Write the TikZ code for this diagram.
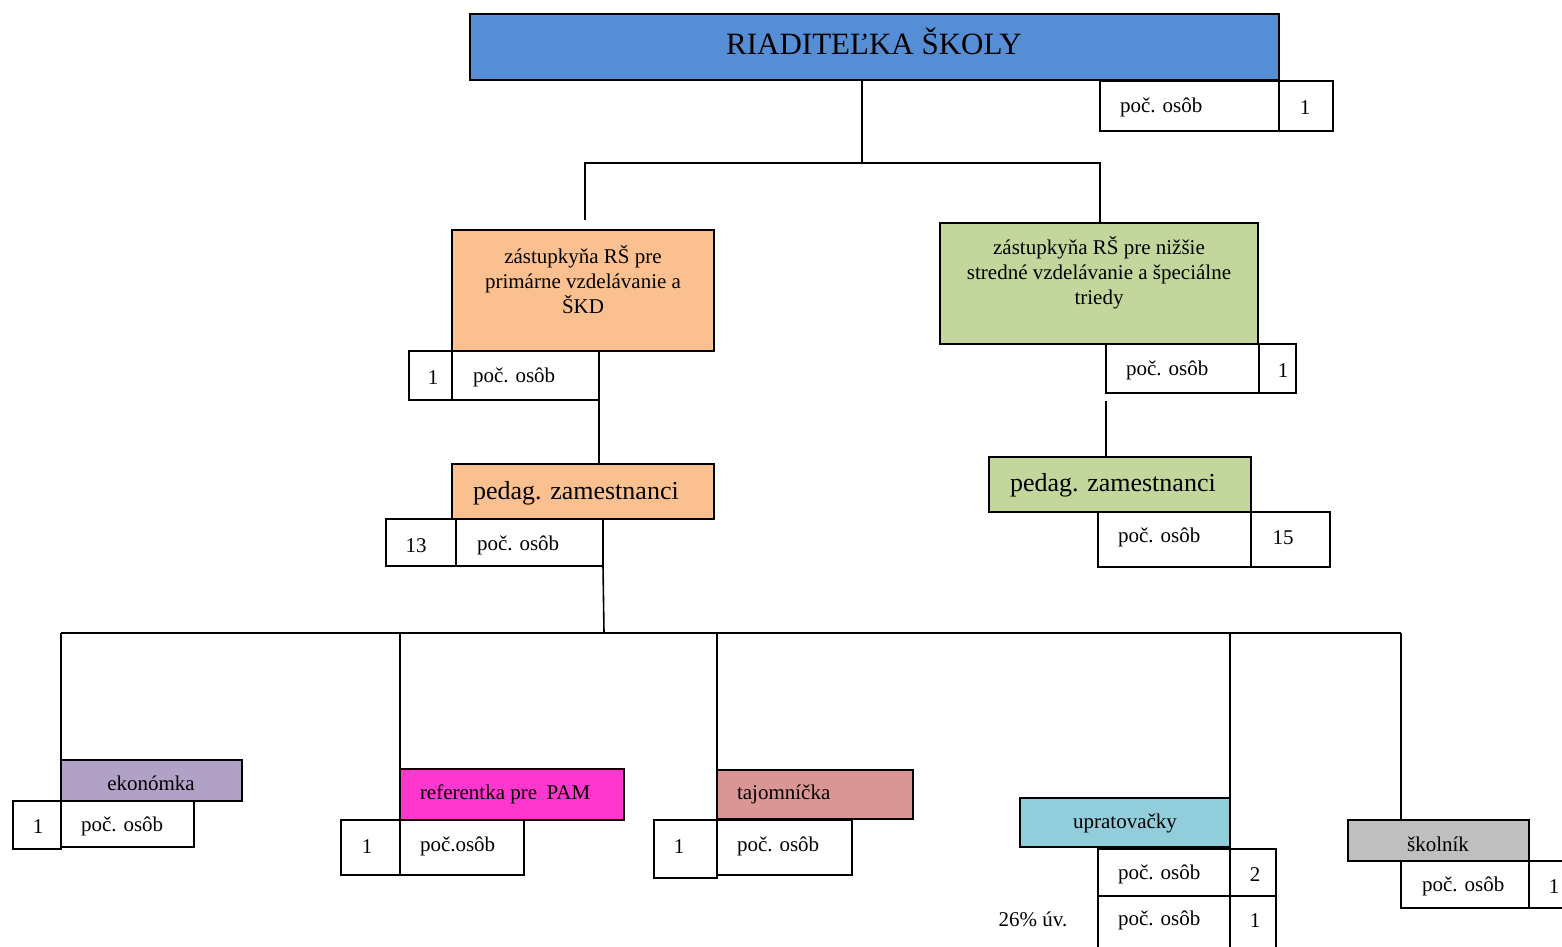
\documentclass[tikz,border=0pt]{standalone}
\usepackage{fontspec}
\setmainfont{Liberation Serif}
\definecolor{cblue}{HTML}{558ED5}
\definecolor{corange}{HTML}{FAC090}
\definecolor{cgreen}{HTML}{C3D69B}
\definecolor{cpurple}{HTML}{B2A1C7}
\definecolor{cmagenta}{HTML}{FF37CF}
\definecolor{crose}{HTML}{D99694}
\definecolor{ccyan}{HTML}{92CDDC}
\definecolor{cgray}{HTML}{BFBFBF}
\begin{document}
\begin{tikzpicture}[x=1pt,y=-1pt,
  every node/.style={inner sep=0pt, outer sep=0pt},
  ln/.style={draw=black, line width=1.6pt},
  boxx/.style={draw=black, line width=1.6pt, rectangle, anchor=north west},
  txt/.style={font=\fontsize{21}{25}\selectfont, yshift=-1.5pt},
  txtw/.style={txt, anchor=west},
  big/.style={font=\fontsize{26}{30}\selectfont, anchor=west, yshift=-1.5pt}]
\useasboundingbox (0,0) rectangle (1562,946);
\fill[white] (0,0) rectangle (1562,946);

% ---------- director
\node[boxx, fill=cblue, minimum width=809pt, minimum height=66pt] (dir) at (470,14) {};
\node[font=\fontsize{31}{36}\selectfont] (dirt) at (874,41) {RIADITEĽKA ŠKOLY};
\node[boxx, minimum width=179pt, minimum height=50pt] (d1) at (1100,81) {};
\node[boxx, minimum width=54pt, minimum height=50pt] (d2) at (1279,81) {};
\node[txtw] (d1t) at (1120,106) {poč. osôb};
\node[txt] (d2t) at (1305,106) {1};

% ---------- left deputy
\node[boxx, fill=corange, minimum width=262pt, minimum height=121pt] (zl) at (452,230) {};
\node[txt, align=center] (zlt) at (583,278) {zástupkyňa RŠ pre\\primárne vzdelávanie a\\ŠKD};
\node[boxx, minimum width=43pt, minimum height=49pt] (l1a) at (409,351) {};
\node[boxx, minimum width=147pt, minimum height=49pt] (l1b) at (452,351) {};
\node[txt] (l1at) at (433,376) {1};
\node[txtw] (l1bt) at (473,376) {poč. osôb};

\node[boxx, fill=corange, minimum width=262pt, minimum height=55pt] (pl) at (452,464) {};
\node[big] (plt) at (473,492) {pedag. zamestnanci};
\node[boxx, minimum width=70pt, minimum height=47pt] (l2a) at (386,519) {};
\node[boxx, minimum width=147pt, minimum height=47pt] (l2b) at (456,519) {};
\node[txt] (l2at) at (416,544) {13};
\node[txtw] (l2bt) at (477,544) {poč. osôb};

% ---------- right deputy
\node[boxx, fill=cgreen, minimum width=318pt, minimum height=121pt] (zr) at (940,223) {};
\node[txt, align=center] (zrt) at (1099,271) {zástupkyňa RŠ pre nižšie\\stredné vzdelávanie a špeciálne\\triedy};
\node[boxx, minimum width=153pt, minimum height=49pt] (r1a) at (1106,344) {};
\node[boxx, minimum width=37pt, minimum height=49pt] (r1b) at (1259,344) {};
\node[txtw] (r1at) at (1126,369) {poč. osôb};
\node[txt] (r1bt) at (1283,369) {1};

\node[boxx, fill=cgreen, minimum width=262pt, minimum height=55pt] (pr) at (989,457) {};
\node[big] (prt) at (1010,484) {pedag. zamestnanci};
\node[boxx, minimum width=153pt, minimum height=55pt] (r2a) at (1098,512) {};
\node[boxx, minimum width=79pt, minimum height=55pt] (r2b) at (1251,512) {};
\node[txtw] (r2at) at (1118,536) {poč. osôb};
\node[txt] (r2bt) at (1283,536) {15};

% ---------- bottom staff
\node[boxx, fill=cpurple, minimum width=181pt, minimum height=41pt] (ek) at (61,760) {};
\node[txt] (ekt) at (151,782) {ekonómka};
\node[boxx, minimum width=48pt, minimum height=48pt] (e1a) at (13,801) {};
\node[boxx, minimum width=133pt, minimum height=46pt] (e1b) at (61,801) {};
\node[txt] (e1at) at (38,825) {1};
\node[txtw] (e1bt) at (81,825) {poč. osôb};

\node[boxx, fill=cmagenta, minimum width=224pt, minimum height=51pt] (re) at (400,769) {};
\node[txtw] (ret) at (420,793) {referentka pre\hspace{0.45em}PAM};
\node[boxx, minimum width=59pt, minimum height=55pt] (f1a) at (341,820) {};
\node[boxx, minimum width=124pt, minimum height=55pt] (f1b) at (400,820) {};
\node[txt] (f1at) at (367,845) {1};
\node[txtw] (f1bt) at (420,845) {poč.osôb};

\node[boxx, fill=crose, minimum width=196pt, minimum height=49pt] (ta) at (717,770) {};
\node[txtw] (tat) at (737,793) {tajomníčka};
\node[boxx, minimum width=63pt, minimum height=58pt] (t1a) at (654,820) {};
\node[boxx, minimum width=135pt, minimum height=55pt] (t1b) at (717,820) {};
\node[txt] (t1at) at (679,845) {1};
\node[txtw] (t1bt) at (737,845) {poč. osôb};

\node[boxx, fill=ccyan, minimum width=210pt, minimum height=49pt] (up) at (1020,798) {};
\node[txt] (upt) at (1125,822) {upratovačky};
\node[boxx, minimum width=132pt, minimum height=47pt] (u1a) at (1098,849) {};
\node[boxx, minimum width=46pt, minimum height=47pt] (u1b) at (1230,849) {};
\node[txtw] (u1at) at (1118,873) {poč. osôb};
\node[txt] (u1bt) at (1255,873) {2};
\node[boxx, minimum width=132pt, minimum height=56pt] (u2a) at (1098,896) {};
\node[boxx, minimum width=46pt, minimum height=56pt] (u2b) at (1230,896) {};
\node[txtw] (u2at) at (1118,919) {poč. osôb};
\node[txt] (u2bt) at (1255,919) {1};
\node[txt] (uv) at (1033,918) {26\% úv.};

\node[boxx, fill=cgray, minimum width=181pt, minimum height=41pt] (sk) at (1348,820) {};
\node[txt] (skt) at (1438,843) {školník};
\node[boxx, minimum width=128pt, minimum height=47pt] (s1a) at (1401,861) {};
\node[boxx, minimum width=50pt, minimum height=47pt] (s1b) at (1529,861) {};
\node[txtw] (s1at) at (1422,885) {poč. osôb};
\node[txt] (s1bt) at (1554,885) {1};

% ---------- connectors
\coordinate (j0) at (862,163);
\coordinate (jl) at (585,163);
\coordinate (jlend) at (585,220);
\coordinate (jr) at (1100,163);
\draw[ln] (j0 |- dir.south) -- (j0);
\draw[ln] (jlend) -- (jl) -- (jr) -- (jr |- zr.north);
\draw[ln] (l1b.south east) -- (l1b.south east |- pl.north);
\coordinate (rstart) at (1106,401);
\draw[ln] (rstart) -- (rstart |- pr.north);

\coordinate (bus) at (604,633);
\coordinate (busL) at (61,633);
\coordinate (busR) at (1401,633);
\draw[ln] (l2b.south east) -- (bus);
\draw[ln] (busL) -- (busR);
\draw[ln] (busL) -- (ek.north west);
\draw[ln] (re.north west |- busL) -- (re.north west);
\draw[ln] (ta.north west |- busL) -- (ta.north west);
\draw[ln] (up.north east |- busL) -- (up.north east);
\draw[ln] (busR) -- (busR |- sk.north);
\end{tikzpicture}
\end{document}
